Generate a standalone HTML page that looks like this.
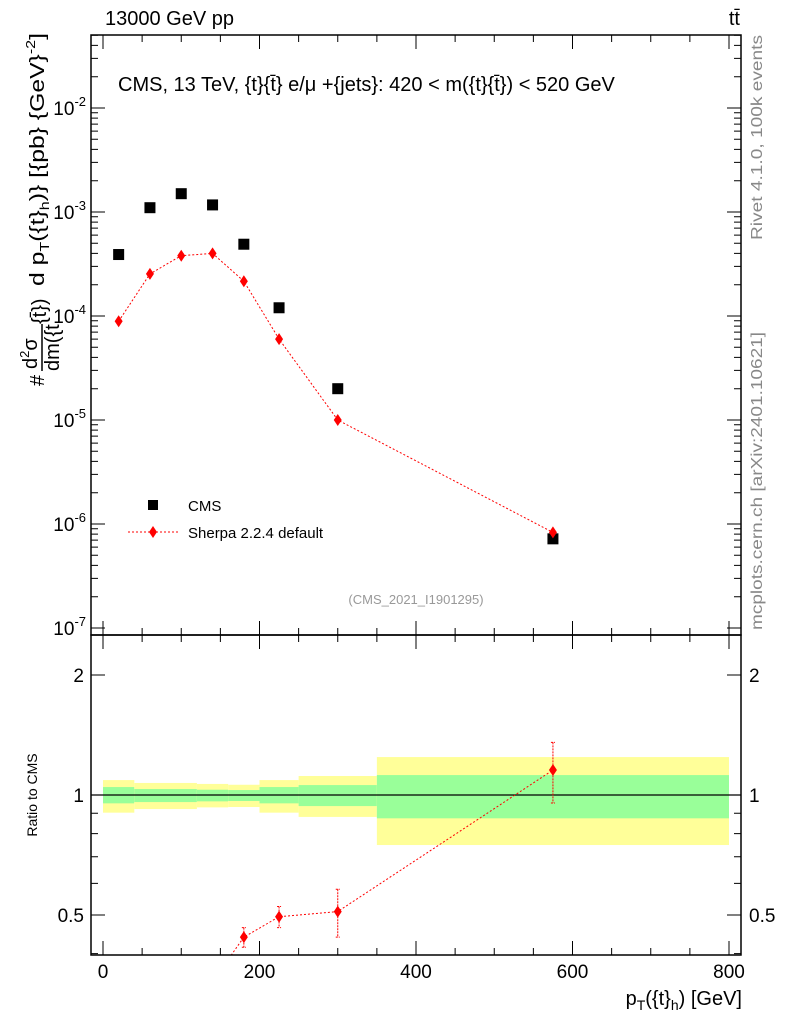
<!DOCTYPE html>
<html><head><meta charset="utf-8"><style>
html,body{margin:0;background:#fff;overflow:hidden;width:786px;height:1024px}
svg{display:block}
svg text{font-family:"Liberation Sans",sans-serif}
</style></head><body>
<svg id="c" width="786" height="1024" viewBox="0 0 786 1024" xmlns="http://www.w3.org/2000/svg">
<text x="105" y="25" font-size="20">13000 GeV pp</text>
<text x="740" y="25" font-size="20" text-anchor="end">tt̄</text>
<text x="118" y="91" font-size="20">CMS, 13 TeV, {t}{t̄} e/μ +{jets}: 420 &lt; m({t}{t̄}) &lt; 520 GeV</text>
<text x="416" y="604" font-size="13" fill="#999" text-anchor="middle">(CMS_2021_I1901295)</text>
<text transform="translate(762,240) rotate(-90)" font-size="16" fill="#888" textLength="205" lengthAdjust="spacingAndGlyphs">Rivet 4.1.0,  100k events</text>
<text transform="translate(762,630) rotate(-90)" font-size="16" fill="#888" textLength="298" lengthAdjust="spacingAndGlyphs">mcplots.cern.ch [arXiv:2401.10621]</text>
<g transform="translate(44,386) rotate(-90)">
<text x="0" y="0" font-size="20">#</text>
<text x="17" y="-7" font-size="20">d<tspan font-size="13" dy="-8">2</tspan><tspan dy="8">σ</tspan></text>
<line x1="15" y1="-2" x2="62" y2="-2" stroke="#000" stroke-width="1.5"/>
<text x="15" y="15" font-size="20">dm({t</text>
<text x="62" y="2" font-size="20">{t̄})</text>
<text x="100" y="0" font-size="20" textLength="253" lengthAdjust="spacingAndGlyphs">d p<tspan font-size="13" dy="5">T</tspan><tspan dy="-5">({t}</tspan><tspan font-size="13" dy="5">h</tspan><tspan dy="-5">)} [{pb} {GeV}</tspan><tspan font-size="13" dy="-9">-2</tspan><tspan dy="9">]</tspan></text>
</g>
<text transform="translate(37,795) rotate(-90)" font-size="14" text-anchor="middle">Ratio to CMS</text>
<text x="742" y="1005" font-size="20" text-anchor="end">p<tspan font-size="14" dy="5">T</tspan><tspan dy="-5">({t}</tspan><tspan font-size="14" dy="5">h</tspan><tspan dy="-5">) [GeV]</tspan></text>
<g id="bands"></g><g id="marks"></g><g id="axes"></g>
<g>
<rect x="148" y="500" width="10" height="10" fill="#000"/>
<text x="188" y="511" font-size="15">CMS</text>
<line x1="128" y1="532" x2="178" y2="532" stroke="red" stroke-dasharray="2,2"/>
<path d="M153,526 L157,532 L153,538 L149,532Z" fill="red"/>
<text x="188" y="538" font-size="15">Sherpa 2.2.4 default</text>
</g>
</svg>
<script>
const xCenters=[20,60,100,140,180,225,300,575];
const cmsVals=[3.9e-4,1.1e-3,1.5e-3,1.17e-3,4.9e-4,1.2e-4,2.0e-5,7.2e-7];
const sherpaVals=[8.9e-5,2.54e-4,3.8e-4,4.0e-4,2.16e-4,6.0e-5,1.0e-5,8.3e-7];
const ratioVals=[0.2,0.23,0.25,0.34,0.44,0.495,0.51,1.155];
const ratioErrLo=[0.02,0.02,0.02,0.02,0.025,0.03,0.07,0.2];
const ratioErrHi=[0.02,0.02,0.02,0.02,0.025,0.03,0.07,0.2];
const binEdges=[0,40,120,160,200,250,350,800];
const yellowHi=[1.09,1.072,1.066,1.061,1.09,1.116,1.245];
const yellowLo=[0.903,0.922,0.931,0.933,0.903,0.881,0.749];
const greenHi=[1.047,1.035,1.031,1.029,1.047,1.059,1.122];
const greenLo=[0.953,0.960,0.964,0.966,0.953,0.938,0.874];
const xTicks=[0,200,400,600,800];
const yTicks=[-7,-6,-5,-4,-3,-2];
const rTicks=[0.5,1,2];
const NS="http://www.w3.org/2000/svg";
const L=91,R=741,T=35,M=635,B=955;
const X=v=>103+v*(729-103)/800;
const Y=v=>108-(Math.log10(v)+2)*104;
const RY=v=>795-Math.log2(v)*120;
function mk(p,t,a){const e=document.createElementNS(NS,t);for(const k in a)e.setAttribute(k,a[k]);document.getElementById(p).appendChild(e);return e;}
binEdges.slice(0,-1).forEach((e,i)=>{
 const x1=X(e),x2=X(binEdges[i+1]);
 let r=mk('bands','rect',{x:x1,y:RY(yellowHi[i]),width:x2-x1,height:RY(yellowLo[i])-RY(yellowHi[i]),fill:'#ffff99'});
 
 
 r=mk('bands','rect',{x:x1,y:RY(greenHi[i]),width:x2-x1,height:RY(greenLo[i])-RY(greenHi[i]),fill:'#99ff99'});
 
 
});
let ln=mk('bands','line',{x1:L,x2:R,y1:RY(1),y2:RY(1),stroke:'#000','stroke-width':1.2});


let pts=xCenters.map((x,i)=>X(x)+','+Y(sherpaVals[i])).join(' ');
let pl=mk('marks','polyline',{points:pts,fill:'none',stroke:'red','stroke-dasharray':'2,2'});


xCenters.forEach((x,i)=>{
 const cx=X(x),cy=Y(cmsVals[i]);
 const s=mk('marks','rect',{x:cx-5.5,y:cy-5.5,width:11,height:11,fill:'#000'});
 
 
 const sy=Y(sherpaVals[i]);
 const d=mk('marks','path',{d:`M${cx},${sy-6}L${cx+4},${sy}L${cx},${sy+6}L${cx-4},${sy}Z`,fill:'red'});
 
 
});
const cp=mk('marks','clipPath',{id:'rc'});mk('rc','rect',{x:L,y:M,width:R-L,height:B-M});


const rg=mk('marks','g',{'clip-path':'url(#rc)',id:'rg'});


pts=xCenters.map((x,i)=>X(x)+','+RY(ratioVals[i])).join(' ');
pl=mk('rg','polyline',{points:pts,fill:'none',stroke:'red','stroke-dasharray':'2,2'});


xCenters.forEach((x,i)=>{
 const cx=X(x),cy=RY(ratioVals[i]);
 const e=mk('rg','path',{d:`M${cx},${RY(ratioVals[i]+ratioErrHi[i])}V${RY(ratioVals[i]-ratioErrLo[i])}M${cx-2},${RY(ratioVals[i]+ratioErrHi[i])}h4M${cx-2},${RY(ratioVals[i]-ratioErrLo[i])}h4`,stroke:'red','stroke-dasharray':'2,1',fill:'none'});
 
 
 const d=mk('rg','path',{d:`M${cx},${cy-6}L${cx+4},${cy}L${cx},${cy+6}L${cx-4},${cy}Z`,fill:'red'});
 
 
});
let f=mk('axes','rect',{x:L,y:T,width:R-L,height:M-T,fill:'none',stroke:'#000','stroke-width':1.5});


f=mk('axes','rect',{x:L,y:M,width:R-L,height:B-M,fill:'none',stroke:'#000','stroke-width':1.5});


let d='';
for(let v=0;v<=800;v+=50){const x=X(v),len=v%200==0?14:7;d+=`M${x},${B}v${-len}M${x},${M}v${-len}M${x},${M}v${len}M${x},${T}v${len}`;}
yTicks.forEach(p=>{d+=`M${L},${Y(10**p)}h14M${R},${Y(10**p)}h-14`;for(let k=2;k<10;k++){const y=Y(k*10**p);if(y>T&&y<M)d+=`M${L},${y}h7M${R},${y}h-7`;}});
[0.4,0.5,0.6,0.7,0.8,0.9,1,2].forEach(v=>{const y=RY(v),len=rTicks.includes(v)?14:7;d+=`M${L},${y}h${len}M${R},${y}h${-len}`;});
const tp=mk('axes','path',{d:d,stroke:'#000','stroke-width':1,fill:'none'});


xTicks.forEach(v=>{const t=mk('axes','text',{x:X(v),y:978,'font-size':19,'text-anchor':'middle'});t.textContent=v;
 
 });
yTicks.forEach(p=>{const t=mk('axes','text',{x:86,y:Y(10**p)+7,'font-size':19,'text-anchor':'end'});
 t.innerHTML=`10<tspan font-size="13" dy="-9">${p}</tspan>`;
 
 });
rTicks.forEach(v=>{[[84,'end'],[749,'start']].forEach(([x,a])=>{const t=mk('axes','text',{x:x,y:RY(v)+7,'font-size':19,'text-anchor':a});t.textContent=v;
 
 });});
</script>
</body></html>
